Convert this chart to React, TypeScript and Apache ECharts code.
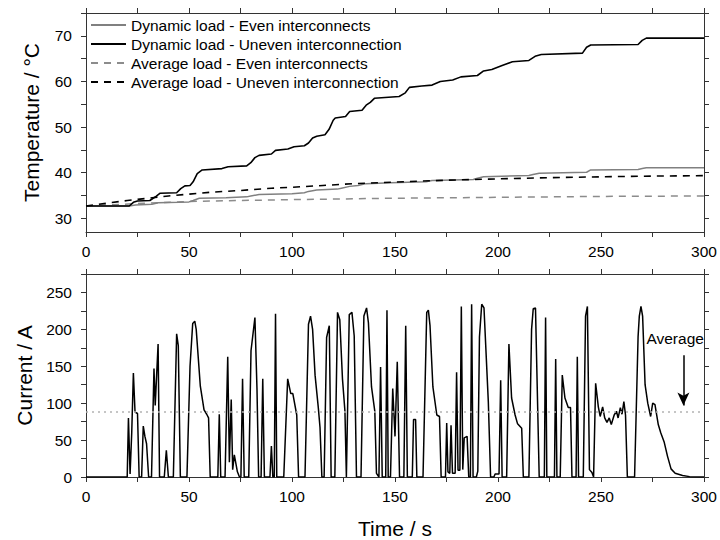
import React, { useEffect, useRef } from 'react';
import * as echarts from 'echarts';

const FONT = '"Liberation Sans", Arial, Helvetica, sans-serif';

// ---- tick / label values ----
const timeTicks = [0, 300, 25]; // min, max, interval
const tempRange = [27, 75];
const tempTickValues = [30, 35, 40, 45, 50, 55, 60, 65, 70, 75];
const tempLabelValues = [30, 40, 50, 60, 70];
const currentRange = [0, 275, 25];

// ---- legend names ----
const names = [
  'Dynamic load - Even interconnects',
  'Dynamic load - Uneven interconnection',
  'Average load - Even interconnects',
  'Average load - Uneven interconnection',
];

// ---- temperature series [time s, °C] ----
const dynEven: [number, number][] = [
  [0, 32.7], [21, 32.7], [24, 32.9], [32, 33.1], [35, 33.4], [45, 33.5], [50, 33.6], [52, 33.9],
  [55, 34.4], [68, 34.5], [78, 34.7], [80, 34.9], [84, 35.2], [100, 35.4], [106, 35.6], [108, 35.9],
  [112, 36.2], [122, 36.4], [124, 36.6], [128, 37.0], [132, 37.2], [136, 37.6], [148, 37.8],
  [165, 38.0], [168, 38.3], [188, 38.5], [190, 38.8], [193, 39.1], [215, 39.4], [217, 39.6],
  [220, 39.9], [243, 40.1], [245, 40.6], [268, 40.7], [270, 40.9], [272, 41.1], [300, 41.1],
];

const dynUneven: [number, number][] = [
  [0, 32.7], [21, 32.7], [23, 33.5], [25, 33.8], [31, 33.9], [34, 34.8], [36, 35.5], [44, 35.6],
  [46, 36.5], [48, 37.1], [50.5, 37.2], [52, 38.0], [54, 39.8], [56.4, 40.6], [66, 40.9], [69, 41.3],
  [78, 41.5], [80, 42.2], [82, 43.3], [84, 43.8], [90, 44.1], [92, 44.9], [98, 45.2], [101, 45.7],
  [106, 45.9], [108, 46.5], [110, 47.6], [112, 48.0], [116, 48.3], [118, 49.5], [120, 51.5],
  [121, 52.0], [126, 52.3], [128, 53.4], [134, 53.7], [136, 54.8], [138, 55.4], [140, 56.3],
  [152, 56.7], [155, 57.5], [157, 58.7], [163, 59.0], [168, 59.2], [172, 60.0], [178, 60.3],
  [182, 61.0], [190, 61.3], [193, 62.3], [197, 62.6], [202, 63.5], [207, 64.3], [215, 64.6],
  [218, 65.5], [221, 65.9], [241, 66.2], [243, 67.5], [245, 68.0], [268, 68.1], [270, 69.0],
  [272, 69.5], [300, 69.5],
];

const avgEven: [number, number][] = [
  [0, 32.7], [10, 32.9], [25, 33.25], [50, 33.7], [75, 33.9], [100, 34.1], [150, 34.4],
  [200, 34.6], [250, 34.8], [300, 34.9],
];

const avgUneven: [number, number][] = [
  [0, 32.7], [10, 33.3], [20, 33.9], [30, 34.4], [40, 34.9], [50, 35.3], [60, 35.7], [75, 36.1],
  [90, 36.6], [100, 36.8], [115, 37.2], [130, 37.6], [150, 37.95], [175, 38.35], [200, 38.65],
  [225, 38.9], [250, 39.1], [275, 39.25], [300, 39.35],
];

// ---- current series [time s, A] ----
const current: [number, number][] = [
  [0, 0], [20, 0], [20.6, 80], [21.4, 4], [22.2, 60], [23, 141], [23.8, 88], [25, 86], [25.8, 0],
  [27, 0], [27.8, 69], [28.6, 55], [29.4, 45], [30.4, 0], [31.8, 0], [33, 147], [33.6, 97],
  [35, 180], [35.7, 0], [38, 0], [39, 36], [40, 0], [42.4, 0], [44, 194], [44.8, 178], [45.8, 0],
  [49, 0], [50.5, 150], [51.8, 208], [52.8, 211], [53.5, 200], [55.5, 123], [57.3, 91], [58.6, 85],
  [59.5, 80], [60.3, 0], [64, 0], [64.7, 85], [65.4, 0], [67.5, 0], [68.8, 163], [69.6, 20],
  [70.5, 105], [71.2, 10], [72, 30], [73.5, 7], [74.5, 0], [75.2, 0], [76, 133], [76.8, 0], [79, 0],
  [80.1, 171], [82, 216], [83, 120], [83.8, 0], [85, 0], [85.8, 133], [86.6, 0], [89.3, 0], [90, 42],
  [90.7, 0], [91.4, 0], [92, 221], [92.6, 0], [96, 0], [97.9, 133], [99.4, 113], [100.4, 113],
  [102.3, 84], [103.2, 0], [106.3, 0], [108, 207], [109, 218], [110, 200], [111.2, 138], [112.8, 93],
  [113.6, 67], [114.5, 0], [115.6, 0], [116.8, 189], [118.1, 205], [119, 0], [120.8, 0], [122.1, 223],
  [123.2, 213], [124.5, 133], [125.7, 89], [126.4, 0], [127.8, 220], [129.1, 223], [130.2, 191],
  [131.3, 0], [133.5, 0], [134.9, 218], [136.2, 229], [137.1, 209], [138.6, 122], [140.2, 89],
  [141, 5], [142.2, 0], [143, 149], [143.8, 0], [145.5, 0], [146.1, 226], [146.7, 0], [147.8, 0],
  [148.9, 120], [150, 55], [151.1, 156], [152.2, 0], [154.3, 0], [155.2, 205], [156, 0], [158.4, 0],
  [159, 78], [160, 78], [160.6, 0], [163.6, 0], [165.4, 223], [166.2, 226], [167, 205], [168.4, 122],
  [170.3, 84], [171.6, 82], [172.4, 0], [174.5, 0], [175.1, 73], [175.7, 7], [176.6, 5], [177.2, 70],
  [177.9, 5], [179.2, 5], [179.9, 142], [180.6, 9], [181.5, 9], [182.2, 231], [182.9, 10], [183.6, 53],
  [185, 55], [185.8, 0], [186.6, 0], [187.2, 234], [187.9, 0], [189.5, 0], [190.2, 8], [191, 190],
  [192.1, 234], [193.2, 229], [195.3, 102], [196.4, 0], [198, 0], [198.6, 4], [200.5, 4], [201.3, 131],
  [202, 0], [204.2, 0], [205.3, 180], [206.6, 107], [208.3, 84], [209.5, 72], [211.5, 66], [212.3, 0],
  [215, 0], [216.3, 200], [217.1, 228], [218.2, 229], [220, 0], [222.5, 0], [223.1, 216], [223.7, 0],
  [227.4, 0], [228, 160], [228.6, 0], [230.2, 0], [231.2, 138], [232.5, 107], [234.1, 94], [235.2, 94],
  [235.9, 0], [237.9, 0], [238.5, 163], [239.1, 0], [241.4, 0], [242.5, 218], [243.4, 231], [244.4, 10],
  [245.6, 6], [246.4, 0], [247.4, 127], [248.7, 95], [249.6, 82], [250.8, 95], [251.8, 80], [252.9, 74],
  [254, 80], [255, 71], [256.4, 84], [257.5, 89], [258.3, 80], [259.4, 94], [260.2, 85], [261.1, 102],
  [261.9, 84], [262.8, 0], [266.3, 0], [268, 190], [268.6, 218], [269.4, 231], [270.2, 218],
  [271.4, 125], [272.7, 100], [274.1, 82], [275.1, 100], [276.2, 98], [277.8, 71], [279, 60],
  [280.7, 47], [282.3, 28], [284, 11], [286, 5], [289.6, 2], [293, 0.5], [300, 0],
];

const averageCurrent = 88;
const averageLabelPos: [number, number] = [286, 188];
const averageArrow: [number, number][] = [[290, 165], [290, 97]];

export default function App() {
  const ref = useRef<HTMLDivElement>(null);

  useEffect(() => {
    if (!ref.current) return;
    const chart = echarts.init(ref.current, undefined, { renderer: 'svg' });
    const axisColor = '#333';
    const tick = { show: true, length: 5, lineStyle: { color: axisColor, width: 1 } };
    const line = { show: true, onZero: false, lineStyle: { color: axisColor, width: 1 } };
    const lbl = { color: '#000', fontSize: 15.5, fontFamily: FONT };
    const nameStyle = { color: '#000', fontSize: 21, fontFamily: FONT };
    const every50 = (v: number) => (v % 50 === 0 ? String(v) : '');

    const xBase = (grid: number, pos: 'top' | 'bottom', labels: boolean) => ({
      type: 'value',
      gridIndex: grid,
      position: pos,
      min: timeTicks[0],
      max: timeTicks[1],
      interval: timeTicks[2],
      axisLine: line,
      axisTick: tick,
      splitLine: { show: false },
      axisLabel: labels ? { ...lbl, margin: 11, formatter: every50 } : { show: false },
    });

    const option: any = {
      animation: false,
      backgroundColor: '#fff',
      grid: [
        { left: 86, right: 16, top: 13, height: 219 },
        { left: 86, right: 16, top: 274, height: 206 },
      ],
      legend: {
        orient: 'vertical',
        left: 90,
        top: 17,
        padding: 0,
        itemWidth: 35,
        itemHeight: 14,
        itemGap: 3,
        itemStyle: { color: 'rgba(0,0,0,0)', borderColor: 'rgba(0,0,0,0)', borderWidth: 0 },
        textStyle: { color: '#000', fontSize: 15.5, fontFamily: FONT },
        data: names,
      },
      xAxis: [
        xBase(0, 'bottom', true),
        xBase(0, 'top', false),
        {
          ...xBase(1, 'bottom', true),
          name: 'Time / s',
          nameLocation: 'middle',
          nameGap: 41,
          nameTextStyle: nameStyle,
        },
        xBase(1, 'top', false),
      ],
      yAxis: [
        {
          type: 'value',
          gridIndex: 0,
          position: 'left',
          min: tempRange[0],
          max: tempRange[1],
          axisLine: line,
          axisTick: { ...tick, customValues: tempTickValues },
          axisLabel: { ...lbl, margin: 14, customValues: tempLabelValues },
          splitLine: { show: false },
          name: 'Temperature / °C',
          nameLocation: 'middle',
          nameGap: 44,
          nameTextStyle: nameStyle,
        },
        {
          type: 'value',
          gridIndex: 0,
          position: 'right',
          min: tempRange[0],
          max: tempRange[1],
          axisLine: line,
          axisTick: { ...tick, customValues: tempTickValues },
          axisLabel: { show: false },
          splitLine: { show: false },
        },
        {
          type: 'value',
          gridIndex: 1,
          position: 'left',
          min: currentRange[0],
          max: currentRange[1],
          interval: currentRange[2],
          axisLine: line,
          axisTick: tick,
          axisLabel: { ...lbl, margin: 14, formatter: every50 },
          splitLine: { show: false },
          name: 'Current / A',
          nameLocation: 'middle',
          nameGap: 49,
          nameTextStyle: nameStyle,
        },
        {
          type: 'value',
          gridIndex: 1,
          position: 'right',
          min: currentRange[0],
          max: currentRange[1],
          interval: currentRange[2],
          axisLine: line,
          axisTick: tick,
          axisLabel: { show: false },
          splitLine: { show: false },
        },
      ],
      series: [
        {
          name: names[2], type: 'line', xAxisIndex: 0, yAxisIndex: 0, data: avgEven,
          symbol: 'none', lineStyle: { color: '#8c8c8c', width: 1.5, type: [7, 6] }, itemStyle: { color: '#8c8c8c' },
        },
        {
          name: names[0], type: 'line', xAxisIndex: 0, yAxisIndex: 0, data: dynEven,
          symbol: 'none', lineStyle: { color: '#808080', width: 1.5 }, itemStyle: { color: '#808080' },
        },
        {
          name: names[3], type: 'line', xAxisIndex: 0, yAxisIndex: 0, data: avgUneven,
          symbol: 'none', lineStyle: { color: '#000', width: 1.6, type: [7, 6] }, itemStyle: { color: '#000' },
        },
        {
          name: names[1], type: 'line', xAxisIndex: 0, yAxisIndex: 0, data: dynUneven,
          symbol: 'none', lineStyle: { color: '#000', width: 1.6 }, itemStyle: { color: '#000' },
        },
        {
          name: 'Current', type: 'line', xAxisIndex: 2, yAxisIndex: 2, data: current,
          symbol: 'none', lineStyle: { color: '#000', width: 1.5 }, itemStyle: { color: '#000' },
          markLine: {
            silent: true,
            animation: false,
            symbol: ['none', 'none'],
            data: [
              {
                yAxis: averageCurrent,
                lineStyle: { color: '#b3b3b3', width: 1.5, type: [2, 4] },
                label: { show: false },
              },
              [
                { coord: averageArrow[0], symbol: 'none' },
                { coord: averageArrow[1], symbol: 'arrow', symbolSize: [9, 13] },
              ],
            ],
            lineStyle: { color: '#000', width: 1.5, type: 'solid' },
            label: { show: false },
          },
          markPoint: {
            silent: true,
            symbol: 'circle',
            symbolSize: 0,
            data: [{ coord: averageLabelPos }],
            label: {
              show: true,
              position: 'inside',
              formatter: 'Average',
              color: '#000',
              fontSize: 15.5,
              fontFamily: FONT,
            },
          },
        },
      ],
    };
    chart.setOption(option);
    return () => chart.dispose();
  }, []);

  return (
    <div
      ref={ref}
      style={{ position: 'fixed', left: 0, top: 0, width: 720, height: 540, background: '#fff' }}
    />
  );
}
